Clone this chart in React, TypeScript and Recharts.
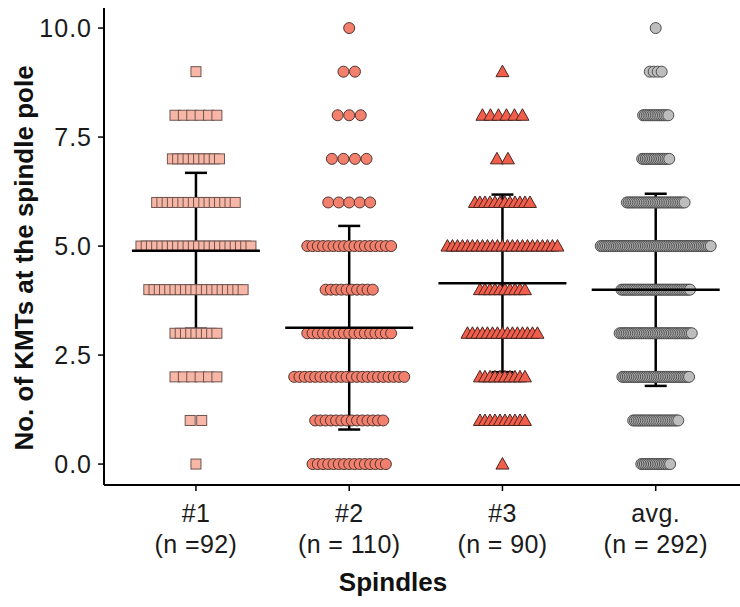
import { ScatterChart, Scatter, XAxis, YAxis, ErrorBar } from "recharts";

// KMT counts at the spindle pole: how many KMTs of each value (0..10) per spindle
const kmtValues = [0, 1, 2, 3, 4, 5, 6, 7, 8, 9, 10];
const spindle1 = [1, 2, 6, 9, 19, 22, 16, 10, 6, 1, 0];
const spindle2 = [15, 14, 22, 17, 10, 17, 5, 4, 3, 2, 1];
const spindle3 = [1, 10, 10, 15, 10, 23, 12, 2, 6, 1, 0];
const groupNames = ["#1", "#2", "#3", "avg."];
const groupSizes = ["(n =92)", "(n = 110)", "(n = 90)", "(n = 292)"];
const yTicks = [0, 2.5, 5, 7.5, 10];

const allSpindles = kmtValues.map((_, i) => spindle1[i] + spindle2[i] + spindle3[i]);
const groups = [spindle1, spindle2, spindle3, allSpindles];

const W = 740;
const H = 607;
const LEFT = 104;
const X_DOMAIN: [number, number] = [0.4, 4.55];
const Y_DOMAIN: [number, number] = [-0.48, 10.46];
const unitPerPx = (X_DOMAIN[1] - X_DOMAIN[0]) / (W - LEFT);

// spread points of equal value sideways; the widest row of a group gets ~110px,
// short rows are loosened a bit so single markers stay apart
function swarm(counts: number[], group: number) {
  const widest = Math.max(...counts);
  const step = 110 / (widest - 1);
  const pts: { x: number; y: number }[] = [];
  counts.forEach((n, i) => {
    const span = n > 1 ? Math.max(step * (n - 1), Math.min(step * 8, 2.2 * step * (n - 1))) : 0;
    for (let k = 0; k < n; k++) {
      const off = n > 1 ? -span / 2 + (span * k) / (n - 1) : 0;
      pts.push({ x: group + 1 + off * unitPerPx, y: kmtValues[i] });
    }
  });
  return pts;
}

function stats(counts: number[], group: number) {
  let n = 0, s = 0, s2 = 0;
  counts.forEach((c, i) => {
    n += c;
    s += c * kmtValues[i];
    s2 += c * kmtValues[i] * kmtValues[i];
  });
  const mean = s / n;
  const sd = Math.sqrt((s2 - n * mean * mean) / (n - 1));
  return { x: group + 1, y: mean, sd };
}

const statData = groups.map((g, i) => stats(g, i));

const Square = (p: any) => (
  <rect x={p.cx - 5} y={p.cy - 5} width={10} height={10} fill="#F8B6A6" stroke="#6e5550" strokeWidth={1} />
);
const Dot = (p: any) => (
  <circle cx={p.cx} cy={p.cy} r={5.5} fill="#F3806D" stroke="#4f3531" strokeWidth={1} />
);
const Tri = (p: any) => (
  <polygon
    points={`${p.cx - 6.5},${p.cy + 5} ${p.cx + 6.5},${p.cy + 5} ${p.cx},${p.cy - 6.5}`}
    fill="#F15E4B"
    stroke="#4a2520"
    strokeWidth={1}
  />
);
const GreyDot = (p: any) => (
  <circle cx={p.cx} cy={p.cy} r={5.5} fill="#BDBDBD" stroke="#4d4d4d" strokeWidth={1} />
);
const MeanLine = (p: any) => (
  <line x1={p.cx - 64} x2={p.cx + 64} y1={p.cy} y2={p.cy} stroke="#000" strokeWidth={2.5} />
);

const GroupTick = (p: any) => {
  const i = p.payload.value - 1;
  return (
    <g fontSize={25} fill="#1a1a1a" letterSpacing={0.4}>
      <text x={p.x} y={p.y + 29} textAnchor="middle">
        {groupNames[i]}
      </text>
      <text x={p.x} y={p.y + 60} textAnchor="middle">
        {groupSizes[i]}
      </text>
    </g>
  );
};

const shapes = [Square, Dot, Tri, GreyDot];

export default function App() {
  return (
    <div style={{ position: "absolute", left: 0, top: 0, width: W, height: H, background: "#fff", fontFamily: "'Liberation Sans', Arial, sans-serif" }}>
      <ScatterChart width={W} height={H} margin={{ top: 8, right: 0, bottom: 0, left: 0 }}>
        <XAxis
          type="number"
          dataKey="x"
          domain={X_DOMAIN}
          ticks={[1, 2, 3, 4]}
          allowDataOverflow
          height={122}
          tickSize={6}
          tick={<GroupTick />}
          axisLine={{ stroke: "#000", strokeWidth: 2 }}
          tickLine={{ stroke: "#000", strokeWidth: 1.5 }}
          label={{
            content: () => (
              <text x={393} y={591} textAnchor="middle" fontSize={26} fontWeight="bold" fill="#111">
                Spindles
              </text>
            ),
          }}
        />
        <YAxis
          type="number"
          dataKey="y"
          domain={Y_DOMAIN}
          ticks={yTicks}
          allowDataOverflow
          width={LEFT}
          tickSize={6}
          tickFormatter={(v: number) => v.toFixed(1)}
          tick={{ fontSize: 25, fill: "#1a1a1a", letterSpacing: 1, dx: -4 }}
          axisLine={{ stroke: "#000", strokeWidth: 2 }}
          tickLine={{ stroke: "#000", strokeWidth: 1.5 }}
          label={{
            content: () => (
              <text
                x={33}
                y={258}
                transform="rotate(-90 33 258)"
                textAnchor="middle"
                fontSize={26}
                fontWeight="bold"
                fill="#111"
              >
                No. of KMTs at the spindle pole
              </text>
            ),
          }}
        />
        {groups.map((g, i) => (
          <Scatter key={i} data={swarm(g, i)} shape={shapes[i]} isAnimationActive={false} />
        ))}
        <Scatter data={statData} shape={MeanLine} isAnimationActive={false}>
          <ErrorBar dataKey="sd" direction="y" width={11} stroke="#000" strokeWidth={2.5} />
        </Scatter>
      </ScatterChart>
    </div>
  );
}
